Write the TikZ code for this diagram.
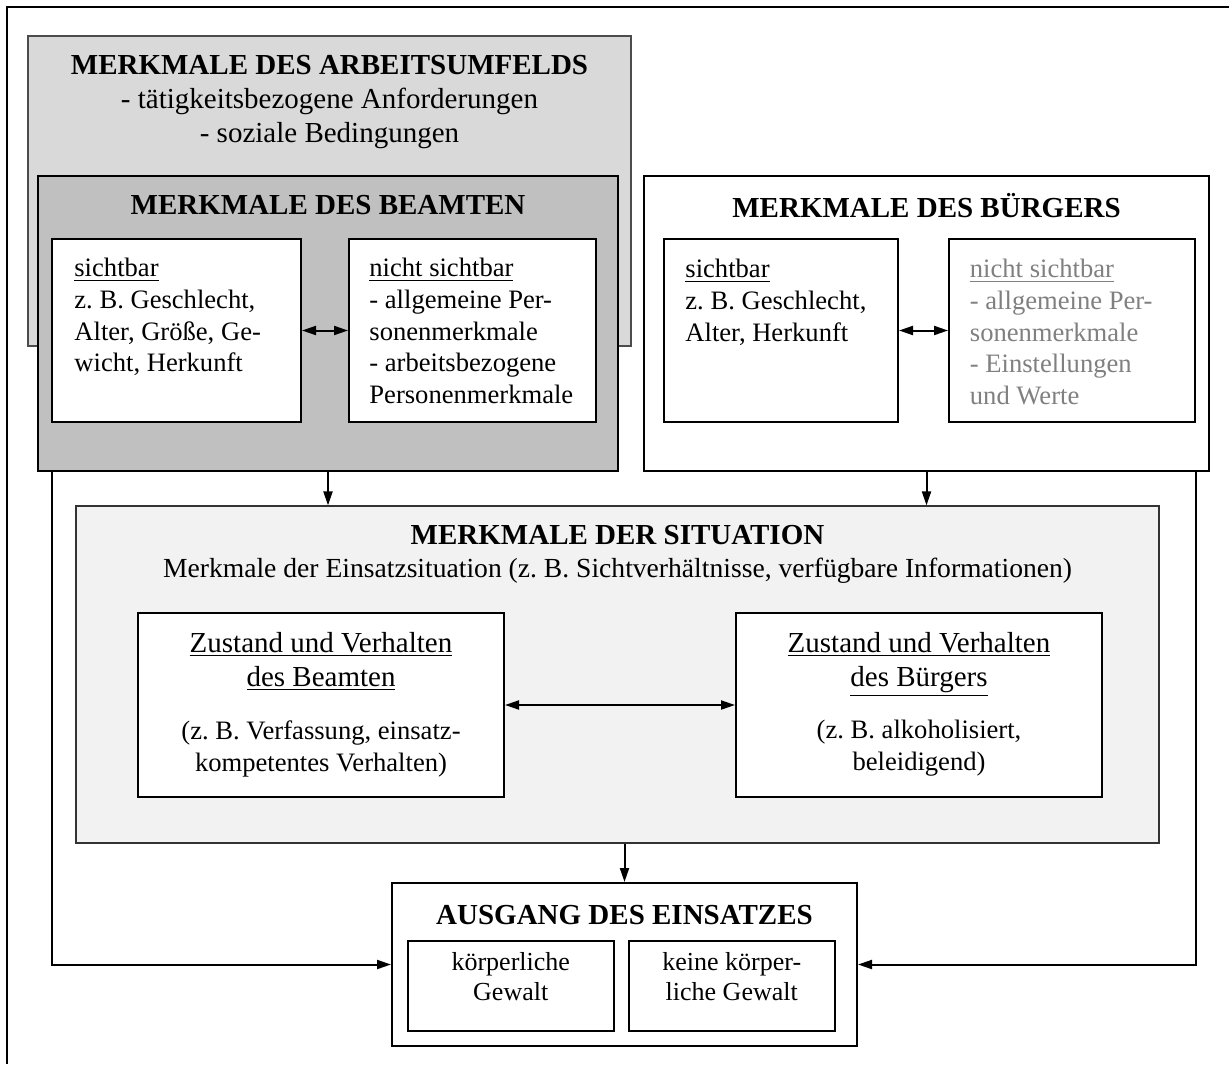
\documentclass[tikz,border=0pt]{standalone}
\usepackage{fontspec}
\setmainfont{Liberation Serif}
\usetikzlibrary{arrows.meta,fit}
\definecolor{umfeldgray}{RGB}{217,217,217}
\definecolor{beamtgray}{RGB}{192,192,192}
\definecolor{sitgray}{RGB}{242,242,242}
\definecolor{hiddengray}{RGB}{128,128,128}
\frenchspacing

\begin{document}
\begin{tikzpicture}[x=0.5pt,y=-0.5pt,>={Triangle[length=7pt,width=4.5pt]},
 every node/.style={font=\fontsize{14.5}{17}\selectfont,inner sep=0pt},
 frame/.style={draw,inner sep=0pt},
 inbox/.style={frame,fill=white,line width=1pt},
 hd/.style={font=\fontsize{14.5}{17}\selectfont\bfseries,anchor=north},
 txt/.style={anchor=north west,align=left,font=\fontsize{13.3}{15.8}\selectfont},
 conn/.style={->,line width=1pt}]
\useasboundingbox (0,0) rectangle (1229,1064);
\draw[line width=1pt] (7,1064)--(7,7)--(1229,7);
% working environment, the officer box lies on top of it
\node[frame,fill=umfeldgray,draw=black!70,line width=.6pt,fit={(28,36)(631,346)}] (umfeld) {};
\node[anchor=north,align=center] (umfeldtitle) at (329.5,55)
 {\textbf{MERKMALE DES ARBEITSUMFELDS}\\- tätigkeitsbezogene Anforderungen\\- soziale Bedingungen};
\node[frame,fill=beamtgray,line width=1.3pt,fit={(38,176)(618,471)}] (beamten) {};
\node[hd] (beamtentitle) at (328,195) {MERKMALE DES BEAMTEN};
\node[inbox,fit={(52,239)(301,422)}] (bsicht) {};
\node[inbox,fit={(349,239)(596,422)}] (bnicht) {};
\node[txt] (bsichttext) at (74,258) {\underline{sichtbar}\\z. B. Geschlecht,\\Alter, Größe, Ge-\\wicht, Herkunft};
\node[txt] (bnichttext) at (369,258) {\underline{nicht sichtbar}\\- allgemeine Per-\\sonenmerkmale\\- arbeitsbezogene\\Personenmerkmale};
\draw[<->,line width=1pt] (bsicht)--(bnicht);
% citizen
\node[frame,fill=white,line width=1.3pt,fit={(644,176)(1209,471)}] (buerger) {};
\node[hd] (buergertitle) at (926.5,193) {MERKMALE DES BÜRGERS};
\node[inbox,fit={(664,239)(898,422)}] (gsicht) {};
\node[inbox,fit={(949,239)(1195,422)}] (gnicht) {};
\node[txt] (gsichttext) at (685,259) {\underline{sichtbar}\\z. B. Geschlecht,\\Alter, Herkunft};
\node[txt,text=hiddengray] (gnichttext) at (969.5,259) {\underline{nicht sichtbar}\\- allgemeine Per-\\sonenmerkmale\\- Einstellungen\\und Werte};
\draw[<->,line width=1pt] (gsicht)--(gnicht);
% situation
\node[frame,fill=sitgray,draw=black!80,line width=.6pt,fit={(76,506)(1159,843)}] (situation) {};
\node[hd] (situationtitle) at (617.5,525) {MERKMALE DER SITUATION};
\node[anchor=north,font=\fontsize{13.8}{16}\selectfont] (situationsub) at (617.5,558)
 {Merkmale der Einsatzsituation (z. B. Sichtverhältnisse, verfügbare Informationen)};
\node[inbox,fit={(137.6,613)(504,797)}] (zbeamt) {};
\node[inbox,fit={(736,613)(1102,797)}] (zbuerg) {};
\node[anchor=north,align=center] (zbeamthead) at (321,632) {\underline{Zustand und Verhalten}\\\underline{des Beamten}};
\node[anchor=north,align=center,font=\fontsize{13.3}{16}\selectfont] (zbeamtbody) at (321,720) {(z. B. Verfassung, einsatz-\\kompetentes Verhalten)};
\node[anchor=north,align=center] (zbuerghead) at (919,632) {\underline{Zustand und Verhalten}\\\underline{des Bürgers}};
\node[anchor=north,align=center,font=\fontsize{13.3}{16}\selectfont] (zbuergbody) at (919,720) {(z. B. alkoholisiert,\\beleidigend)};
\draw[<->,line width=1pt] (zbeamt)--(zbuerg);
% outcome
\node[inbox,fit={(392,883)(857,1046)}] (ausgang) {};
\node[hd] (ausgangtitle) at (624.5,905) {AUSGANG DES EINSATZES};
\node[inbox,align=center,font=\fontsize{13}{15}\selectfont,fit={(407.5,941)(614,1031)}] (gewalt) {körperliche\\Gewalt};
\node[inbox,align=center,font=\fontsize{13}{15}\selectfont,fit={(628.5,941)(835,1031)}] (keinegewalt) {keine körper-\\liche Gewalt};
\draw[conn] (beamten.south)--(beamten.south |- situation.north);
\draw[conn] (buerger.south)--(buerger.south |- situation.north);
\draw[conn] (situation.south -| ausgang.north)--(ausgang.north);
\draw[conn] ([xshift=7.5pt]beamten.south west) |- (ausgang.west);
\draw[conn] ([xshift=-7pt]buerger.south east) |- (ausgang.east);
\end{tikzpicture}
\end{document}
